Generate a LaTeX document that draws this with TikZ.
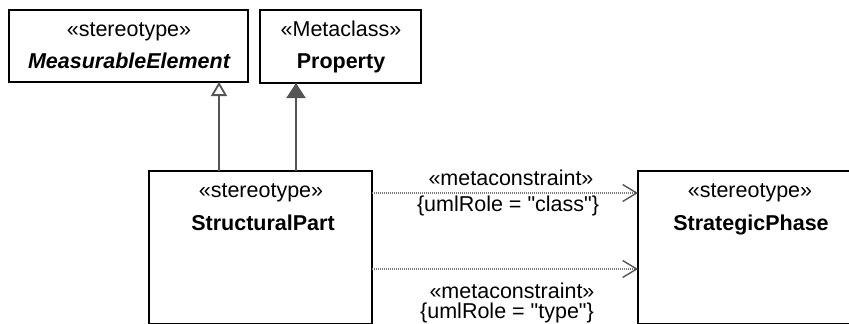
\documentclass[tikz,border=0pt]{standalone}
\usepackage{fontspec}
\newfontfamily\uifont{Liberation Sans}
\usetikzlibrary{arrows.meta}
\definecolor{connGray}{HTML}{555555}
\definecolor{dotGray}{HTML}{7A7A7A}
\begin{document}
\begin{tikzpicture}[x=1pt,y=-1pt,
  font=\uifont\fontsize{21.5}{26}\selectfont,
  box/.style={draw=black, line width=2pt, rectangle, inner sep=0pt, outer sep=0pt, fill=white},
  txt/.style={anchor=base, inner sep=0pt, text=black},
  gen/.style={draw=connGray, line width=2pt},
  dep/.style={draw=dotGray, line width=1.3pt, dash pattern=on 1pt off 1pt,
    -{Straight Barb[length=14pt,width=17pt,line width=1.4pt,color=connGray]}}
]
\useasboundingbox (0,0) rectangle (849,324);
\clip (0,0) rectangle (849,324);

% boxes
\node[box, minimum width=239pt, minimum height=72pt] (me) at (128.5,46) {};
\node[box, minimum width=161pt, minimum height=73pt] (pr) at (340.5,46.5) {};
\node[box, minimum width=223pt, minimum height=153pt] (sp) at (260.5,247.5) {};
\node[box, minimum width=224pt, minimum height=153pt] (stp) at (750,247.5) {};

% box texts
\node[txt] (me1) at (129,36) {«stereotype»};
\node[txt] (me2) at (129,68) {\bfseries\itshape MeasurableElement};
\node[txt] (pr1) at (341,36) {«Metaclass»};
\node[txt] (pr2) at (341,68) {\bfseries Property};
\node[txt] (sp1) at (261,197) {«stereotype»};
\node[txt] (sp2) at (263,230) {\bfseries StructuralPart};
\node[txt] (stp1) at (750,197) {«stereotype»};
\node[txt] (stp2) at (751,230) {\bfseries StrategicPhase};

% generalization connectors
\coordinate (g1) at (219,0);
\coordinate (g2) at (296,0);
\draw[gen, -{Triangle[open, length=14pt, width=16pt, fill=white, line width=1.8pt]}] (sp.north -| g1) -- (me.south -| g1);
\draw[gen, -{Triangle[length=15pt, width=19pt, fill=connGray]}] (sp.north -| g2) -- (pr.south -| g2);

% metaconstraint dependencies
\coordinate (d1) at (0,193);
\coordinate (d2) at (0,269);
\draw[dep] (sp.east |- d1) -- (stp.west |- d1);
\draw[dep] (sp.east |- d2) -- (stp.west |- d2);

% labels
\node[txt] (l1a) at (511,185) {«metaconstraint»};
\node[txt] (l1b) at (508,211) {\{umlRole = "class"\}};
\node[txt] (l2a) at (512,298) {«metaconstraint»};
\node[txt] (l2b) at (507,318) {\{umlRole = "type"\}};
\end{tikzpicture}
\end{document}
